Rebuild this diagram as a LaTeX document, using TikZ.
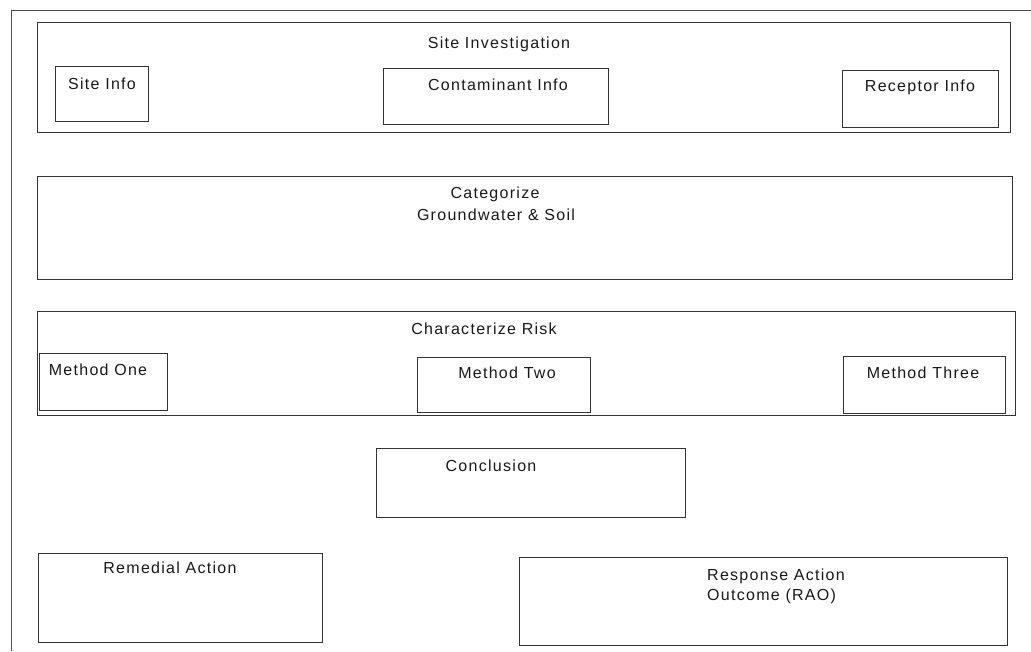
\documentclass[tikz,border=0pt]{standalone}
\usepackage{fontspec}
\setmainfont{Liberation Sans}[LetterSpace=8]
\begin{document}
\begin{tikzpicture}[x=1pt,y=-1pt,
  box/.style={draw=black!80,line width=1.3pt,rectangle,inner sep=0pt,anchor=north west},
  lbl/.style={font=\fontsize{16}{20}\selectfont,text=black!90,inner sep=0pt,anchor=base},
  frame/.style={draw=black!70,line width=1pt}]
\useasboundingbox (0,0) rectangle (1031,651);
\coordinate (ftl) at (11,10);
\coordinate (ftr) at (1031,10);
\coordinate (fbl) at (11,651);
\draw[frame] (ftr) -- (ftl) -- (fbl);
% Site investigation
\node[box,minimum width=973pt,minimum height=110pt] (si) at (37,22) {};
\node[lbl] (sit) at (499,48) {Site Investigation};
\node[box,minimum width=93pt,minimum height=55pt] (sinfo) at (55,66) {};
\node[lbl] (sinfot) at (102,89) {Site Info};
\node[box,minimum width=225pt,minimum height=56pt] (cinfo) at (383,68) {};
\node[lbl] (cinfot) at (498,90) {Contaminant Info};
\node[box,minimum width=156pt,minimum height=57pt] (rinfo) at (842,70) {};
\node[lbl] (rinfot) at (920,91) {Receptor Info};
% Categorize
\node[box,minimum width=975pt,minimum height=103pt] (cat) at (37,176) {};
\node[lbl] (catt1) at (495,198) {Categorize};
\node[lbl] (catt2) at (496,220) {Groundwater \& Soil};
% Characterize
\node[box,minimum width=978pt,minimum height=104pt] (cr) at (37,311) {};
\node[lbl] (crt) at (484,334) {Characterize Risk};
\node[box,minimum width=128pt,minimum height=57pt] (m1) at (39,353) {};
\node[lbl] (m1t) at (98,375) {Method One};
\node[box,minimum width=173pt,minimum height=55pt] (m2) at (417,357) {};
\node[lbl] (m2t) at (507,378) {Method Two};
\node[box,minimum width=162pt,minimum height=57pt] (m3) at (843,356) {};
\node[lbl] (m3t) at (923,378) {Method Three};
% Conclusion
\node[box,minimum width=309pt,minimum height=69pt] (con) at (376,448) {};
\node[lbl] (cont) at (491,471) {Conclusion};
% Remedial
\node[box,minimum width=284pt,minimum height=89pt] (rem) at (38,553) {};
\node[lbl] (remt) at (170,573) {Remedial Action};
% RAO
\node[box,minimum width=488pt,minimum height=88pt] (rao) at (519,557) {};
\node[lbl,anchor=base west] (raot1) at (707,580) {Response Action};
\node[lbl,anchor=base west] (raot2) at (707,600) {Outcome (RAO)};
\end{tikzpicture}
\end{document}
